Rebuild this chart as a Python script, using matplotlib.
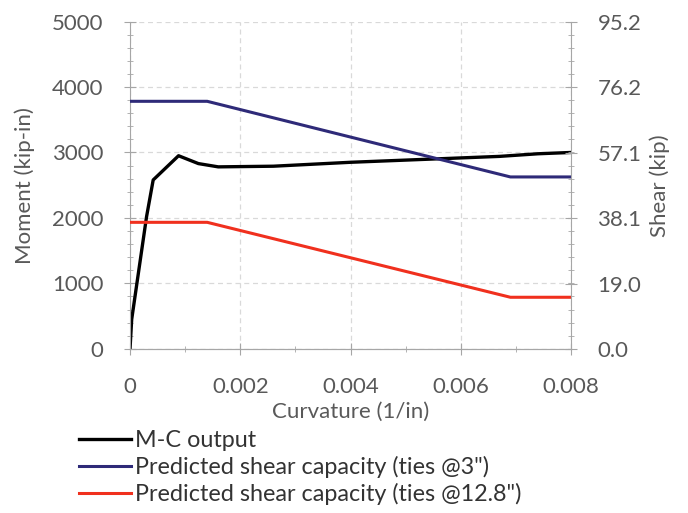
import matplotlib.pyplot as plt
from matplotlib.ticker import MultipleLocator

plt.rcParams['font.family'] = ['Lato', 'DejaVu Sans']

# M-C output (moment in kip-in vs curvature in 1/in)
mc_curv = [0, 0.00003, 0.0003, 0.00042, 0.00088, 0.00124, 0.0016, 0.0026,
           0.004, 0.0055, 0.0067, 0.0074, 0.008]
mc_moment = [0, 450, 2020, 2580, 2950, 2830, 2780, 2790,
             2850, 2900, 2940, 2980, 3000]

# predicted shear capacity (kip)
cap_curv = [0, 0.0014, 0.0069, 0.008]
shear_ties3 = [72.0, 72.0, 50.0, 50.0]
shear_ties128 = [36.8, 36.8, 15.0, 15.0]

shear_ticks = [0.0, 19.0, 38.1, 57.1, 76.2, 95.2]

grey = '#595959'
axis_grey = '#a6a6a6'
fs = 16

fig = plt.figure(figsize=(6.88, 5.13), dpi=100)
ax = fig.add_axes([0.189, 0.320, 0.641, 0.638])
ax2 = ax.twinx()

l1, = ax.plot(mc_curv, mc_moment, color='black', lw=2.4, label='M-C output')
l2, = ax2.plot(cap_curv, shear_ties3, color='#2e2a78', lw=2.2,
               label='Predicted shear capacity (ties @3")')
l3, = ax2.plot(cap_curv, shear_ties128, color='#f0301e', lw=2.2,
               label='Predicted shear capacity (ties @12.8")')

ax.set_xlim(0, 0.008)
ax.set_ylim(0, 5000)
ax2.set_ylim(0, 95.2)
ax.xaxis.set_minor_locator(MultipleLocator(0.001))
ax.yaxis.set_major_locator(MultipleLocator(1000))
ax.yaxis.set_minor_locator(MultipleLocator(200))
ax.set_xticks([0, 0.002, 0.004, 0.006, 0.008])
ax.set_xticklabels(['0', '0.002', '0.004', '0.006', '0.008'])
ax2.set_yticks(shear_ticks)
ax2.set_yticklabels([f'{v:.1f}' for v in shear_ticks])
ax2.yaxis.set_minor_locator(MultipleLocator(95.2 / 25))

ax.grid(True, which='major', ls=(0, (4, 3)), color='#d9d9d9', lw=0.9)

for a in (ax, ax2):
    a.spines['top'].set_visible(False)
    for side in ('left', 'right', 'bottom'):
        a.spines[side].set_color(axis_grey)
    a.tick_params(which='both', direction='inout', colors=axis_grey,
                  labelcolor=grey, labelsize=fs)
    a.tick_params(which='major', length=8, pad=15)
    a.tick_params(which='minor', length=5)
ax2.spines['left'].set_visible(False)
ax.spines['right'].set_visible(False)
ax.tick_params(axis='x', pad=16)

ax.set_xlabel('Curvature (1/in)', color=grey, fontsize=fs, labelpad=4)
ax.set_ylabel('Moment (kip-in)', color=grey, fontsize=fs, labelpad=12)
ax2.set_ylabel('Shear (kip)', color=grey, fontsize=fs, labelpad=6)

fig.legend(handles=[l1, l2, l3], loc='upper left',
           bbox_to_anchor=(0.101, 0.180), frameon=False, fontsize=16.8,
           handlelength=2.25, handletextpad=0.15, labelspacing=0.22,
           borderaxespad=0, labelcolor='#333333')

fig.savefig('out.png', dpi=100)
